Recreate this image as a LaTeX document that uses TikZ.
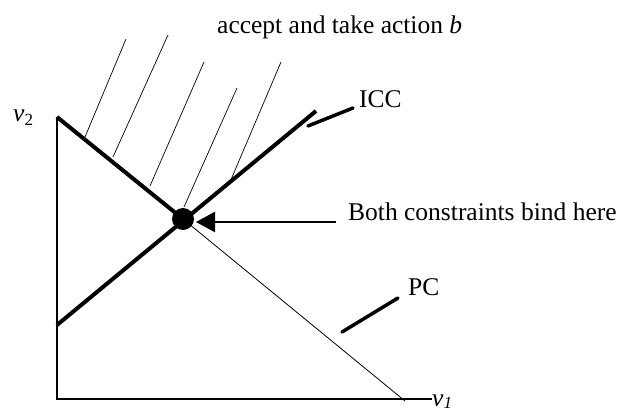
\documentclass[tikz,border=0pt]{standalone}
\usepackage{fontspec}
\setmainfont{Liberation Serif}
\usetikzlibrary{arrows.meta}
\begin{document}
\begin{tikzpicture}[x=1pt,y=-1pt,
  lbl/.style={inner sep=0pt,font=\fontsize{25.5}{30}\selectfont},
  axis/.style={line width=1.3pt},
  heavy/.style={line width=4pt},
  thinline/.style={line width=0.8pt},
  hatch/.style={line width=0.7pt},
  leader/.style={line width=3.5pt,line cap=round}]
\useasboundingbox (0,0) rectangle (627,415);
% axes
\coordinate (top) at (57,117);
\coordinate (O) at (57,399);
\coordinate (xend) at (432,399);
\draw[axis] (top) -- (O) -- (xend);
% points
\node[circle,fill=black,inner sep=0pt,minimum size=22pt] (dot) at (183,219) {};
\coordinate (pcend) at (405,401);
\coordinate (iccstart) at (57,325);
\coordinate (iccend) at (316,111);
% PC line
\draw[heavy] (top) -- (dot.center);
\draw[thinline] (dot.center) -- (pcend);
% ICC line
\draw[heavy] (iccstart) -- (iccend);
% hatching
\coordinate (h1a) at (85,137); \coordinate (h1b) at (126,39);
\coordinate (h2a) at (113,157); \coordinate (h2b) at (168,35);
\coordinate (h3a) at (150,186); \coordinate (h3b) at (204,62);
\coordinate (h4a) at (184,207); \coordinate (h4b) at (237,88);
\coordinate (h5a) at (230,182); \coordinate (h5b) at (281,62);
\foreach \i in {1,...,5} \draw[hatch] (h\i a) -- (h\i b);
% labels
\node[lbl,anchor=base west] (title) at (217,33) {accept and take action \textit{b}};
\node[lbl,anchor=base west] (v2) at (13,121) {\textit{v}\raisebox{-0.35ex}{\fontsize{17}{20}\selectfont 2}};
\node[lbl,anchor=base west] (v1) at (432,406) {\textit{v}\raisebox{-0.2ex}{\fontsize{17}{20}\selectfont\textit{1}}};
\node[lbl,anchor=base west] (icc) at (359,107) {ICC};
\node[lbl,anchor=base west] (pc) at (408,295) {PC};
\node[lbl,anchor=base west] (both) at (348,220) {Both constraints bind here};
% leaders
\coordinate (iccl1) at (308,126); \coordinate (iccl2) at (353,108);
\draw[leader] (iccl1) -- (iccl2);
\coordinate (pcl1) at (342,332); \coordinate (pcl2) at (398,298);
\draw[leader] (pcl1) -- (pcl2);
% arrow
\coordinate (arrs) at (336,222);
\draw[line width=2.5pt,-{Triangle[length=19pt,width=20pt]},shorten >=13pt] (arrs) -- (dot.center |- arrs);
\end{tikzpicture}
\end{document}
